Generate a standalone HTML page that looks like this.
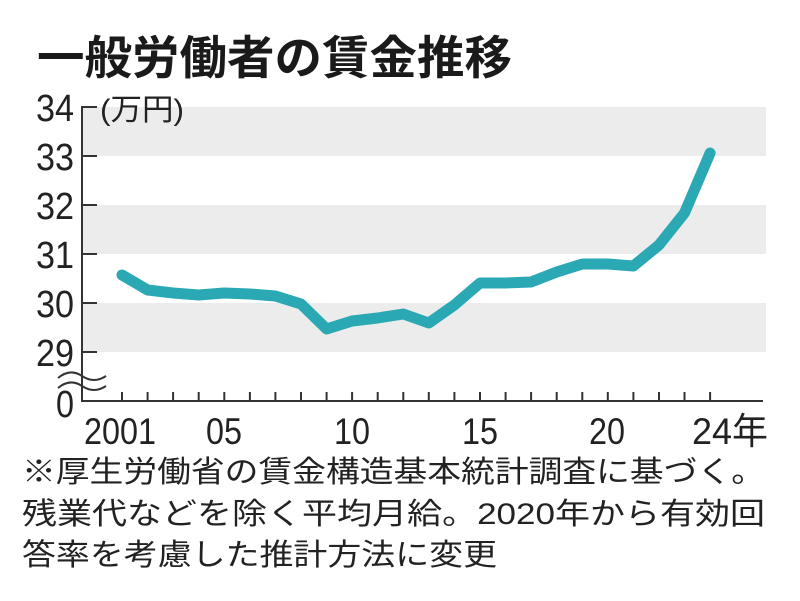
<!DOCTYPE html>
<html><head><meta charset="utf-8"><style>
html,body{margin:0;padding:0;background:#fff;}
svg{display:block;}
.t{font-family:"Liberation Sans","Noto Sans CJK JP",sans-serif;}
</style></head><body>
<svg width="800" height="601" viewBox="0 0 800 601" xmlns="http://www.w3.org/2000/svg">
<rect width="800" height="601" fill="#fff"/>
<text class="t" x="37" y="74" font-size="46" font-weight="bold" fill="#1a1a1a" textLength="475" lengthAdjust="spacingAndGlyphs" font-family="Noto Sans CJK JP, sans-serif">一般労働者の賃金推移</text>
<rect x="83" y="107" width="683" height="49" fill="#ececec"/>
<rect x="83" y="205" width="683" height="49" fill="#ececec"/>
<rect x="83" y="303" width="683" height="49" fill="#ececec"/>
<g stroke="#333" stroke-width="2" fill="none">
<line x1="82" y1="106" x2="82" y2="401"/>
<line x1="81" y1="401" x2="763" y2="401"/>
<line x1="82" y1="107" x2="97" y2="107"/>
<line x1="82" y1="156" x2="97" y2="156"/>
<line x1="82" y1="205" x2="97" y2="205"/>
<line x1="82" y1="254" x2="97" y2="254"/>
<line x1="82" y1="303" x2="97" y2="303"/>
<line x1="82" y1="352" x2="97" y2="352"/>
<path d="M58 378 Q70 368 82 376 T106 376"/>
<path d="M58 388 Q70 378 82 386 T106 386"/>
</g>
<g stroke="#333" stroke-width="2">
<path d="M122 401v-9M147.6 401v-9M173.1 401v-9M198.7 401v-9M224.3 401v-9M249.9 401v-9M275.4 401v-9M301 401v-9M326.6 401v-9M352.1 401v-9M377.7 401v-9M403.3 401v-9M428.8 401v-9M454.4 401v-9M480 401v-9M505.6 401v-9M531.1 401v-9M556.7 401v-9M582.3 401v-9M607.8 401v-9M633.4 401v-9M659 401v-9M684.5 401v-9M710.1 401v-9"/>
</g>
<g class="t" font-size="38" fill="#222" text-anchor="end">
<text x="74" y="121" textLength="38" lengthAdjust="spacingAndGlyphs">34</text>
<text x="74" y="170" textLength="38" lengthAdjust="spacingAndGlyphs">33</text>
<text x="74" y="219" textLength="38" lengthAdjust="spacingAndGlyphs">32</text>
<text x="74" y="268" textLength="38" lengthAdjust="spacingAndGlyphs">31</text>
<text x="74" y="317" textLength="38" lengthAdjust="spacingAndGlyphs">30</text>
<text x="74" y="366" textLength="38" lengthAdjust="spacingAndGlyphs">29</text>
<text x="74" y="417" textLength="18" lengthAdjust="spacingAndGlyphs">0</text>
</g>
<text class="t" x="100" y="120" font-size="30" fill="#222" textLength="84" lengthAdjust="spacingAndGlyphs">(万円)</text>
<g class="t" font-size="37" fill="#222" text-anchor="middle">
<text x="120" y="444" textLength="72" lengthAdjust="spacingAndGlyphs">2001</text>
<text x="224" y="444" textLength="36" lengthAdjust="spacingAndGlyphs">05</text>
<text x="352" y="444" textLength="36" lengthAdjust="spacingAndGlyphs">10</text>
<text x="480" y="444" textLength="36" lengthAdjust="spacingAndGlyphs">15</text>
<text x="607" y="444" textLength="36" lengthAdjust="spacingAndGlyphs">20</text>
</g>
<text class="t" x="692" y="444" font-size="37" fill="#222" textLength="76" lengthAdjust="spacingAndGlyphs">24年</text>
<polyline fill="none" stroke="#2aa9b5" stroke-width="11" stroke-linecap="round" stroke-linejoin="round"
points="122,275 147.6,290 173.1,293 198.7,295 224.3,293 249.9,294 275.4,296 301,304 326.6,329 352.1,321 377.7,318 403.3,314 428.8,323 454.4,305 480,283 505.6,283 531.1,282 556.7,272 582.3,264 607.8,264 633.4,266 659,245 684.5,213 710.1,153"/>
<g class="t" font-size="30" fill="#222" font-family="Noto Sans CJK JP, sans-serif">
<text x="22" y="482" textLength="743" lengthAdjust="spacingAndGlyphs">※厚生労働省の賃金構造基本統計調査に基づく。</text>
<text x="22" y="524" textLength="743" lengthAdjust="spacingAndGlyphs">残業代などを除く平均月給。2020年から有効回</text>
<text x="22" y="565" textLength="475" lengthAdjust="spacingAndGlyphs">答率を考慮した推計方法に変更</text>
</g>
</svg>
</body></html>
